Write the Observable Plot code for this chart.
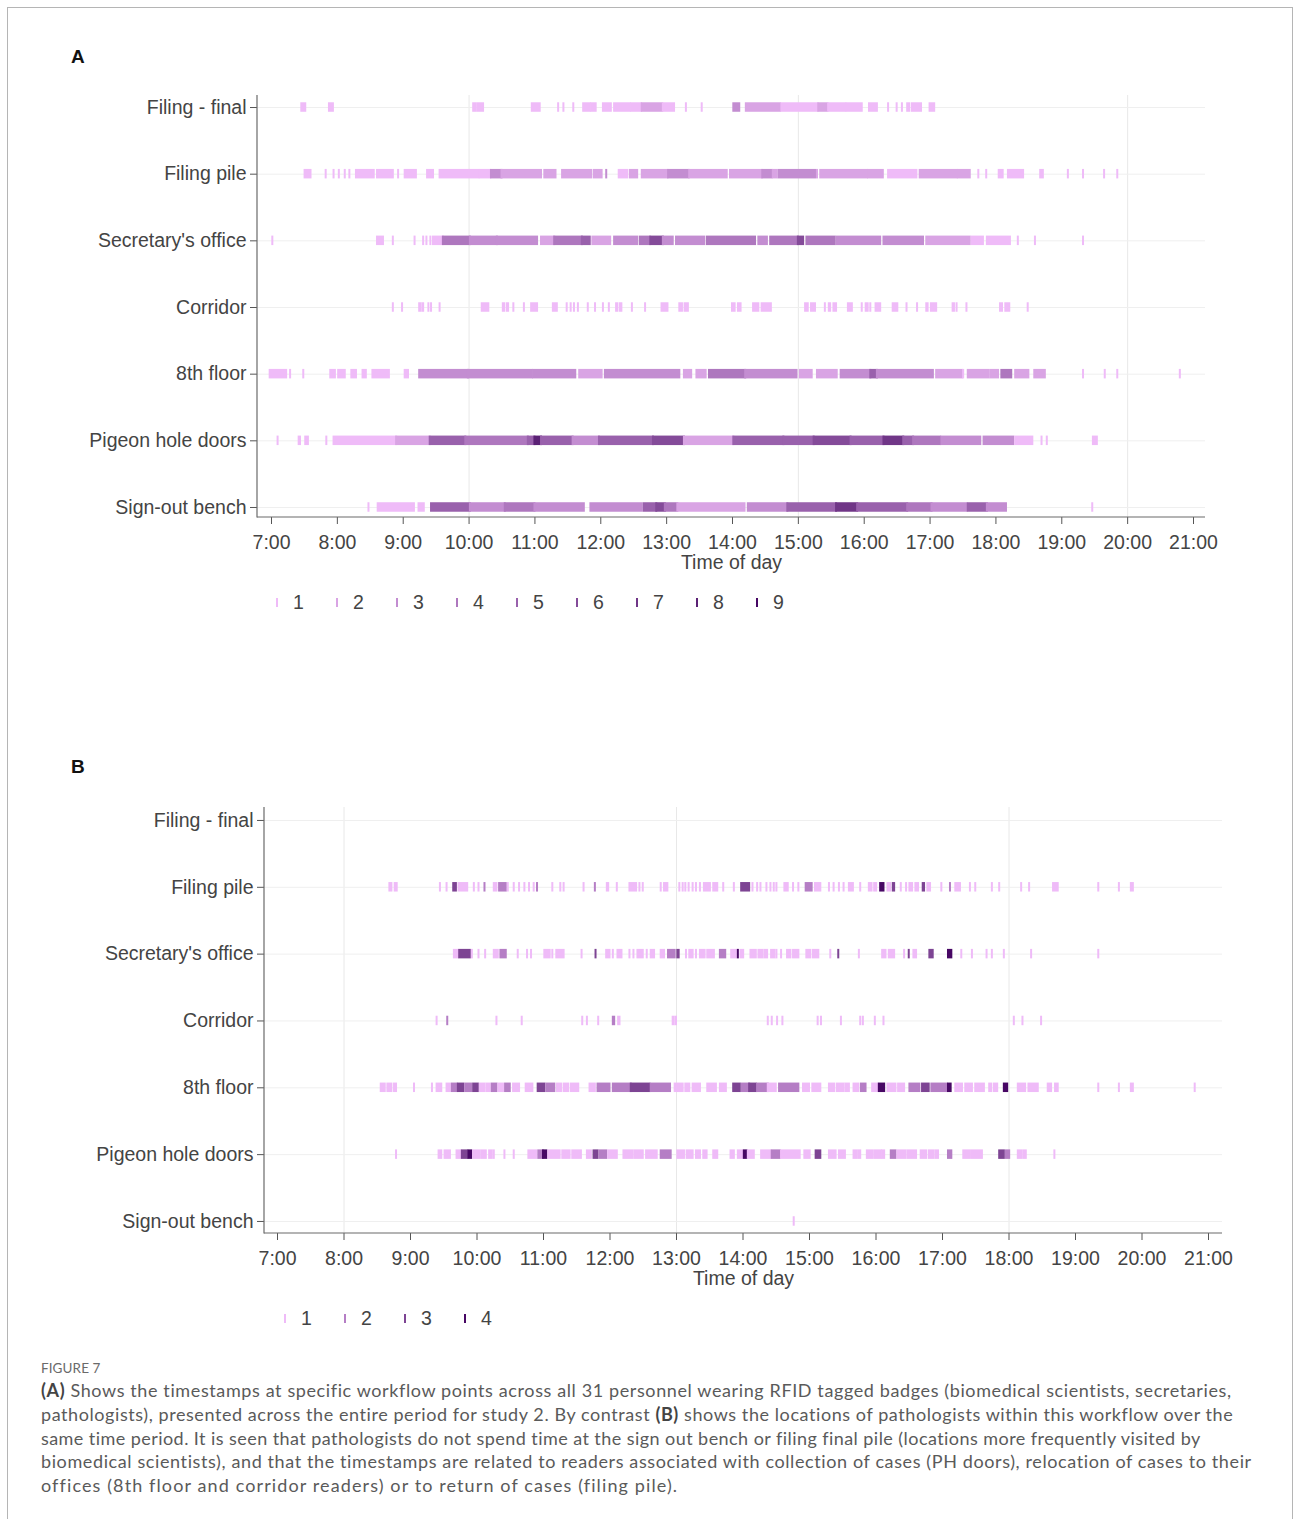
<!DOCTYPE html>
<html>
<head>
<meta charset="utf-8">
<script src="https://cdn.jsdelivr.net/npm/d3@7"></script>
<script src="https://cdn.jsdelivr.net/npm/@observablehq/plot@0.6"></script>
<style>
  html, body { margin: 0; padding: 0; background: #fff; }
  body { width: 1293px; height: 1519px; position: relative; overflow: hidden; font-family: "Liberation Sans", Arial, sans-serif; }
  .frame { position: absolute; left: 7px; top: 7px; width: 1284px; height: 1540px; border: 1px solid #b5b5b5; }
  .plab { position: absolute; font-weight: bold; font-size: 19px; color: #111; }
  .svgwrap { position: absolute; left: 0; }
  .leg { position: absolute; font-size: 19.5px; color: #444; }
  .leg .g { position: absolute; width: 2px; height: 9px; }
  .leg .t { position: absolute; line-height: 20px; }
  .figno { position: absolute; left: 41px; top: 1360px; font-family: Lato, "Open Sans", sans-serif; font-size: 13.5px; color: #6a6a6a; letter-spacing: 0.1px; }
  .cap { position: absolute; left: 41px; top: 1379px; font-family: Lato, "Open Sans", sans-serif; font-size: 18px; line-height: 23.8px; color: #5a5a5a; white-space: nowrap; }
  .cap div { display: block; width: max-content; }
  .cap b { color: #444; }
</style>
</head>
<body>
<div class="frame"></div>
<div class="plab" style="left:71px; top:46px;">A</div>
<div class="plab" style="left:71px; top:756px;">B</div>
<div id="chartA" class="svgwrap" style="top:70px;"></div>
<div id="legA" class="leg" style="top:592px; left:0;"></div>
<div id="chartB" class="svgwrap" style="top:780px;"></div>
<div id="legB" class="leg" style="top:1308px; left:0;"></div>
<div class="figno">FIGURE 7</div>
<div class="cap" id="cap">
<div data-w="1191"><b>(A)</b> Shows the timestamps at specific workflow points across all 31 personnel wearing RFID tagged badges (biomedical scientists, secretaries,</div>
<div data-w="1193">pathologists), presented across the entire period for study 2. By contrast <b>(B)</b> shows the locations of pathologists within this workflow over the</div>
<div data-w="1160">same time period. It is seen that pathologists do not spend time at the sign out bench or filing final pile (locations more frequently visited by</div>
<div data-w="1212">biomedical scientists), and that the timestamps are related to readers associated with collection of cases (PH doors), relocation of cases to their</div>
<div data-w="636">offices (8th floor and corridor readers) or to return of cases (filing pile).</div>
</div>
<script>
// ---------------- DATA ----------------
const locations = ["Filing - final", "Filing pile", "Secretary's office", "Corridor", "8th floor", "Pigeon hole doors", "Sign-out bench"];
const hourTicks = [7, 8, 9, 10, 11, 12, 13, 14, 15, 16, 17, 18, 19, 20, 21];
const gridHoursA = [10, 15, 20];
const gridHoursB = [8, 13, 18];
const levelsA = [1, 2, 3, 4, 5, 6, 7, 8, 9];
const levelsB = [1, 2, 3, 4];

// Each entry: [start hour, end hour, number of readings]
const filingFinalA = [
  [7.46,7.52,1],[7.88,7.94,1],[10.07,10.1,1],[10.13,10.22,1],[10.96,11.08,1],
  [11.36,11.36,1],[11.44,11.44,1],[11.59,11.59,1],[11.74,11.84,1],[11.86,11.93,1],[12.04,12.16,1],
  [12.21,12.45,1],[12.47,12.62,1],[12.63,12.94,2],[12.95,13.12,1],[13.30,13.30,1],[13.54,13.54,1],
  [14.02,14.11,3],[14.21,14.73,2],[14.75,15.3,1],[15.31,15.45,2],[15.46,15.72,1],
  [15.74,15.97,1],[16.08,16.2,1],[16.37,16.37,1],[16.5,16.5,1],[16.58,16.58,1],[16.66,16.69,1],
  [16.73,16.87,1],[17.0,17.07,1]
];
const filingPileA = [
  [7.51,7.60,1],[7.83,7.83,1],[7.95,7.95,1],[8.03,8.03,1],[8.12,8.12,1],[8.19,8.19,1],
  [8.29,8.56,1],[8.61,8.85,1],[8.93,8.93,1],[9.03,9.2,1],[9.37,9.46,1],
  [9.56,10.15,1],[10.17,10.33,1],[10.34,10.5,3],[10.5,11.1,2],
  [11.15,11.32,2],[11.42,11.86,2],[11.9,12.02,2],[12.09,12.09,3],
  [12.28,12.41,1],[12.45,12.56,2],[12.63,13.02,2],[13.03,13.34,3],[13.35,13.92,2],
  [13.97,14.45,2],[14.46,14.6,3],[14.62,14.68,2],[14.71,15.26,3],[15.29,15.29,2],[15.34,16.05,2],
  [16.07,16.29,2],[16.37,16.8,1],[16.85,17.41,2],[17.43,17.61,2],
  [17.74,17.74,1],[17.86,17.86,1],[18.05,18.11,1],[18.19,18.42,1],
  [18.68,18.72,1],[19.1,19.1,1],[19.33,19.33,1],[19.65,19.65,1],[19.85,19.85,1]
];
const secretaryA = [
  [7.02,7.02,1],[8.61,8.7,1],[8.85,8.85,1],[9.18,9.18,1],[9.31,9.31,1],[9.36,9.36,1],[9.42,9.42,1],
  [9.46,9.61,1],[9.61,10.02,4],[10.02,10.43,3],[10.43,11.04,3],
  [11.1,11.3,2],[11.3,11.72,4],[11.72,11.84,5],[11.88,12.15,2],[12.21,12.56,3],
  [12.6,12.75,4],[12.76,12.95,6],[12.95,13.1,3],
  [13.15,13.58,3],[13.62,14.35,4],[14.4,14.53,3],[14.58,15.0,4],[15.0,15.08,6],
  [15.13,15.56,4],[15.59,16.25,3],[16.3,16.9,3],[16.95,17.61,2],
  [17.64,17.81,1],[17.87,18.22,1],[18.34,18.34,1],[18.6,18.6,1],[19.33,19.33,1]
];
const corridorA = [
  [8.85,8.85,1],[8.99,8.99,1],[9.25,9.27,1],[9.3,9.31,1],[9.39,9.39,1],[9.43,9.43,1],[9.56,9.56,1],
  [10.2,10.3,1],[10.52,10.54,1],[10.58,10.6,1],[10.68,10.68,1],[10.84,10.84,1],[10.95,11.04,1],
  [11.28,11.34,1],[11.49,11.49,1],[11.55,11.55,1],[11.6,11.6,1],[11.66,11.66,1],[11.81,11.81,1],[11.92,11.92,1],
  [12.04,12.04,1],[12.13,12.13,1],[12.24,12.26,1],[12.3,12.32,1],[12.48,12.48,1],[12.68,12.68,1],
  [12.93,13.02,1],[13.2,13.24,1],[13.28,13.33,1],
  [14.0,14.04,1],[14.09,14.13,1],[14.32,14.4,1],[14.45,14.59,1],
  [15.11,15.15,1],[15.2,15.26,1],[15.41,15.41,1],[15.47,15.49,1],[15.54,15.58,1],[15.76,15.82,1],
  [15.97,15.97,1],[16.03,16.06,1],[16.1,16.1,1],[16.18,16.25,1],[16.44,16.51,1],[16.65,16.65,1],[16.81,16.81,1],
  [16.95,16.97,1],[17.02,17.1,1],[17.35,17.37,1],[17.41,17.41,1],[17.56,17.56,1],
  [18.07,18.1,1],[18.15,18.21,1],[18.49,18.49,1]
];
const eighthA = [
  [6.98,7.23,1],[7.29,7.29,1],[7.49,7.49,1],
  [7.9,7.97,1],[8.02,8.12,1],[8.22,8.29,1],[8.39,8.44,1],[8.54,8.79,1],[9.03,9.08,1],
  [9.25,9.99,3],[9.99,10.96,3],[10.98,11.62,3],[11.68,12.02,2],[12.07,13.2,3],
  [13.27,13.38,2],[13.46,13.6,2],
  [13.65,14.2,4],[14.2,14.98,3],[15.03,15.21,2],[15.29,15.59,2],
  [15.65,16.1,3],[16.1,16.2,5],[16.2,17.05,3],[17.1,17.49,2],[17.51,17.51,1],[17.58,17.89,2],
  [17.92,18.04,2],[18.09,18.24,4],[18.3,18.5,2],[18.59,18.75,2],
  [19.33,19.33,1],[19.66,19.66,1],[19.85,19.85,1],[20.8,20.8,1]
];
const pigeonA = [
  [7.1,7.1,1],[7.42,7.44,1],[7.52,7.56,1],[7.84,7.84,1],
  [7.95,8.9,1],[8.9,9.41,2],[9.41,9.95,5],[9.95,10.9,4],
  [10.9,11.0,5],[11.0,11.1,8],[11.1,11.58,5],[11.58,11.98,3],
  [11.98,12.8,5],[12.8,13.27,6],[13.27,14.02,2],
  [14.02,14.78,5],[14.78,15.24,5],[15.24,15.8,6],[15.8,16.3,5],[16.3,16.6,7],[16.6,16.75,5],
  [16.75,17.16,4],[17.18,17.77,3],[17.82,18.27,3],[18.3,18.56,1],[18.7,18.7,1],[18.78,18.78,1],[19.48,19.54,1]
];
const signoutA = [
  [8.48,8.48,1],[8.62,9.17,1],[9.24,9.32,1],
  [9.43,10.02,5],[10.02,10.55,3],[10.55,11.0,4],[11.0,11.75,3],
  [11.85,12.63,3],[12.66,12.85,5],[12.85,12.98,6],[12.98,13.17,4],
  [13.17,14.19,2],[14.24,14.84,3],[14.84,15.58,5],[15.58,15.9,7],[15.9,16.66,5],
  [16.66,17.03,4],[17.03,17.56,3],[17.58,17.87,5],[17.87,18.16,3],[19.47,19.47,1]
];

const filingFinalB = [];
const filingPileB = [
  [8.69,8.72,1],[8.77,8.8,1],[9.45,9.45,1],[9.55,9.55,1],[9.65,9.69,3],[9.73,9.86,1],[9.96,9.96,1],[10.03,10.03,1],[10.12,10.12,2],
  [10.26,10.3,1],[10.34,10.44,2],[10.47,10.47,1],[10.56,10.56,1],[10.64,10.64,1],[10.72,10.72,1],[10.79,10.79,1],[10.86,10.86,1],[10.91,10.91,2],
  [11.14,11.14,1],[11.26,11.26,1],[11.31,11.31,1],[11.61,11.61,1],[11.78,11.78,2],[11.96,11.98,1],[12.11,12.11,1],
  [12.3,12.4,1],[12.45,12.45,1],[12.5,12.5,1],[12.77,12.77,1],[12.82,12.87,1],
  [13.05,13.05,1],[13.1,13.1,1],[13.14,13.14,1],[13.19,13.19,1],[13.25,13.25,1],[13.3,13.3,1],[13.36,13.36,1],[13.42,13.51,1],
  [13.56,13.62,1],[13.71,13.71,1],[13.87,13.87,1],[13.98,14.1,3],[14.15,14.15,1],[14.22,14.22,1],[14.27,14.27,1],
  [14.36,14.36,1],[14.42,14.42,1],[14.47,14.47,1],[14.51,14.51,1],
  [14.63,14.68,1],[14.76,14.76,1],[14.84,14.84,1],[14.95,15.04,2],[15.09,15.17,1],
  [15.3,15.3,1],[15.37,15.37,1],[15.45,15.45,1],[15.52,15.52,1],[15.6,15.66,1],[15.77,15.77,1],
  [15.9,15.94,1],[15.98,16.01,1],[16.07,16.12,4],[16.18,16.22,1],[16.26,16.28,3],
  [16.38,16.38,1],[16.46,16.46,1],[16.51,16.55,1],[16.6,16.64,1],[16.71,16.73,3],[16.78,16.82,1],
  [16.99,16.99,1],[17.12,17.12,2],[17.2,17.27,1],[17.42,17.42,1],[17.5,17.5,1],
  [17.75,17.75,1],[17.86,17.86,1],[18.19,18.19,1],[18.31,18.31,1],[18.67,18.74,1],[19.35,19.35,1],[19.66,19.66,1],[19.84,19.87,1]
];
const secretaryB = [
  [9.66,9.72,1],[9.74,9.9,3],[9.93,9.93,1],[10.03,10.03,1],[10.13,10.13,1],[10.26,10.32,1],[10.36,10.44,2],
  [10.62,10.62,1],[10.76,10.76,1],[10.82,10.82,1],[11.02,11.1,1],[11.14,11.14,1],[11.2,11.31,1],
  [11.58,11.58,1],[11.79,11.79,3],[11.95,12.0,1],[12.05,12.05,1],[12.12,12.18,1],[12.3,12.3,1],[12.36,12.36,1],
  [12.42,12.5,1],[12.56,12.56,1],[12.62,12.67,1],[12.77,12.82,1],[12.88,12.98,2],[13.02,13.04,3],
  [13.15,13.15,1],[13.2,13.25,1],[13.3,13.3,1],[13.36,13.43,1],[13.47,13.57,1],[13.66,13.74,2],
  [13.83,13.9,1],[13.93,13.93,4],[13.97,14.01,1],[14.12,14.2,1],[14.24,14.3,1],[14.33,14.37,1],
  [14.43,14.48,1],[14.51,14.51,1],[14.58,14.58,1],[14.67,14.72,1],[14.76,14.84,1],
  [14.96,15.02,1],[15.06,15.14,1],[15.32,15.32,1],[15.44,15.44,3],[15.75,15.75,1],
  [16.1,16.15,1],[16.2,16.28,1],[16.43,16.43,1],[16.5,16.5,3],[16.57,16.61,1],[16.81,16.86,3],
  [17.09,17.14,4],[17.29,17.29,1],[17.45,17.45,1],[17.67,17.67,1],[17.75,17.75,1],[17.93,17.93,1],
  [18.34,18.34,1],[19.35,19.35,1]
];
const corridorB = [
  [9.4,9.4,1],[9.56,9.56,2],[10.3,10.3,1],[10.68,10.68,1],[11.59,11.59,1],[11.66,11.66,1],[11.83,11.83,1],
  [12.05,12.07,2],[12.13,12.15,1],[12.95,12.96,1],[12.99,13.0,1],
  [14.38,14.38,1],[14.44,14.44,1],[14.52,14.52,1],[14.6,14.6,1],
  [15.13,15.13,1],[15.18,15.18,1],[15.48,15.48,1],[15.77,15.77,1],[15.81,15.81,1],[15.99,15.99,1],[16.12,16.12,1],
  [18.08,18.08,1],[18.21,18.21,1],[18.49,18.49,1]
];
const eighthB = [
  [8.56,8.62,1],[8.66,8.72,1],[8.76,8.79,1],[9.06,9.06,1],[9.33,9.33,1],[9.4,9.47,1],[9.55,9.6,1],
  [9.63,9.7,2],[9.72,9.8,3],[9.83,9.92,2],[9.95,10.02,3],[10.05,10.12,1],[10.15,10.2,1],
  [10.23,10.3,2],[10.33,10.4,1],[10.43,10.5,2],[10.55,10.64,1],[10.74,10.84,1],[10.92,11.02,3],[11.05,11.17,2],
  [11.21,11.27,1],[11.31,11.38,1],[11.42,11.53,1],
  [11.7,11.78,1],[11.82,12.0,2],[12.05,12.32,2],[12.32,12.6,3],[12.62,12.91,2],
  [12.98,13.1,1],[13.14,13.2,1],[13.25,13.36,1],[13.47,13.6,1],[13.66,13.75,1],[13.86,13.96,3],
  [13.99,14.1,2],[14.1,14.2,3],[14.22,14.38,2],[14.38,14.5,1],[14.55,14.84,2],
  [14.91,15.0,1],[15.05,15.17,1],[15.3,15.38,1],[15.42,15.52,1],[15.55,15.6,1],[15.67,15.74,1],[15.78,15.85,2],
  [15.95,16.03,1],[16.05,16.13,4],[16.18,16.3,1],[16.34,16.43,1],[16.51,16.66,2],[16.7,16.8,3],[16.84,17.07,2],
  [17.09,17.13,4],[17.2,17.3,1],[17.35,17.45,1],[17.5,17.63,1],[17.71,17.74,1],[17.78,17.83,1],[17.93,17.98,4],
  [18.14,18.25,1],[18.3,18.44,1],[18.59,18.64,1],[18.7,18.74,1],[19.35,19.35,1],[19.66,19.66,1],[19.84,19.87,1],[20.8,20.8,1]
];
const pigeonB = [
  [8.79,8.79,1],[9.43,9.47,1],[9.52,9.6,1],[9.7,9.76,1],[9.78,9.86,3],[9.88,9.92,4],[9.95,10.05,1],[10.08,10.14,1],
  [10.19,10.23,1],[10.26,10.26,1],[10.42,10.42,1],[10.56,10.56,1],[10.78,10.9,1],[10.93,11.0,2],[11.0,11.05,4],
  [11.08,11.25,1],[11.29,11.4,1],[11.44,11.57,1],[11.66,11.72,1],[11.76,11.82,3],[11.85,11.95,2],[11.98,12.11,1],
  [12.21,12.35,1],[12.38,12.5,1],[12.55,12.71,1],[12.77,12.92,2],[13.02,13.12,1],[13.16,13.25,1],[13.3,13.36,1],
  [13.41,13.46,1],[13.56,13.62,1],[13.82,13.87,1],[13.93,14.0,1],[14.02,14.06,4],[14.08,14.17,1],
  [14.28,14.42,1],[14.44,14.56,2],[14.58,14.86,1],[14.93,15.01,1],[15.1,15.17,3],[15.3,15.4,1],[15.45,15.54,1],
  [15.67,15.72,1],[15.75,15.77,1],[15.87,15.95,1],[15.98,16.08,1],[16.1,16.13,1],[16.23,16.3,2],[16.33,16.45,1],
  [16.48,16.61,1],[16.68,16.76,1],[16.8,16.87,1],[16.9,16.94,1],[17.09,17.14,2],[17.32,17.42,1],[17.45,17.6,1],
  [17.86,17.93,3],[17.96,18.01,2],[18.14,18.2,1],[18.23,18.26,1],[18.69,18.69,1]
];
const signoutB = [[14.77,14.77,1]];

const rowsA = [filingFinalA, filingPileA, secretaryA, corridorA, eighthA, pigeonA, signoutA];
const rowsB = [filingFinalB, filingPileB, secretaryB, corridorB, eighthB, pigeonB, signoutB];

// ---------------- DRAWING ----------------
const lightC = "#efbbf8", darkC = "#470764";
const textC = "#444";

function toRecords(rows) {
  return rows.flatMap((arr, i) => arr.map(([a, b, n]) => ({loc: locations[i], start: a, end: b, n})));
}

function panel({rows, xDomain, grid, levels, marginLeft, marginRight, marginTop, marginBottom, height, paddingInner, paddingOuter, align}) {
  const chart = Plot.plot({
    width: 1293, height, marginLeft, marginRight, marginTop, marginBottom,
    style: {fontFamily: "'Liberation Sans', Arial, sans-serif", fontSize: "19.5px", color: textC, background: "transparent"},
    x: {domain: xDomain},
    y: {domain: locations, paddingInner, paddingOuter, align, round: false},
    color: {type: "linear", domain: [levels[0], levels[levels.length - 1]], range: [lightC, darkC], interpolate: "lab"},
    marks: [
      Plot.ruleX(grid, {stroke: "#e8e8e8", strokeWidth: 1}),
      Plot.gridY({stroke: "#efefef", strokeOpacity: 1}),
      Plot.barX(toRecords(rows), {x1: "start", x2: "end", y: "loc", fill: "n", insetLeft: -1, insetRight: -1}),
      Plot.axisX({ticks: hourTicks, tickFormat: d => `${d}:00`, tickSize: 7, tickPadding: 11, label: null, stroke: "#555", fill: textC}),
      Plot.axisY({tickSize: 7, tickPadding: 4, label: null, stroke: "#555", fill: textC}),
      Plot.text(["Time of day"], {text: d => d, frameAnchor: "bottom", lineAnchor: "middle", dy: 45, fill: textC, fontSize: 19.5})
    ]
  });
  const [x0, x1] = chart.scale("x").range;
  const [y0, y1] = chart.scale("y").range;
  const s = d3.select(chart);
  s.append("line").attr("x1", x0).attr("x2", x0).attr("y1", y0).attr("y2", y1 + 0.5)
    .attr("stroke", "#6a6a6a").attr("stroke-width", 1.2);
  s.append("line").attr("x1", x0).attr("x2", x1).attr("y1", y1).attr("y2", y1)
    .attr("stroke", "#6a6a6a").attr("stroke-width", 1.2);
  return chart;
}

function legend(el, chart, levels, gx, gy) {
  const color = chart.scale("color");
  levels.forEach((v, i) => {
    const g = document.createElement("div");
    g.className = "g";
    g.style.left = (gx + i * 60 - 1) + "px";
    g.style.top = (gy - 4.5) + "px";
    g.style.background = color.apply(v);
    el.appendChild(g);
    const t = document.createElement("div");
    t.className = "t";
    t.textContent = String(v);
    t.style.left = (gx + i * 60 + 16) + "px";
    t.style.top = (gy - 10) + "px";
    el.appendChild(t);
  });
}

const chartA = panel({
  rows: rowsA, xDomain: [6.7874, 21.1822], grid: gridHoursA, levels: levelsA,
  marginLeft: 257, marginRight: 88, marginTop: 25, marginBottom: 60, height: 507,
  paddingInner: 0.8575, paddingOuter: 0.094, align: 0.58
});
document.getElementById("chartA").appendChild(chartA);
legend(document.getElementById("legA"), chartA, levelsA, 277, 10);

const chartB = panel({
  rows: rowsB, xDomain: [6.8045, 21.2105], grid: gridHoursB, levels: levelsB,
  marginLeft: 264, marginRight: 71, marginTop: 27, marginBottom: 60, height: 513,
  paddingInner: 0.858, paddingOuter: 0.116, align: 0.53
});
document.getElementById("chartB").appendChild(chartB);
legend(document.getElementById("legB"), chartB, levelsB, 285, 10);

// fit caption lines to the widths they occupy in the figure
document.querySelectorAll("#cap > div").forEach(line => {
  const target = +line.dataset.w;
  const natural = line.getBoundingClientRect().width;
  const n = line.textContent.length;
  line.style.letterSpacing = ((target - natural) / n) + "px";
});
</script>
</body>
</html>
